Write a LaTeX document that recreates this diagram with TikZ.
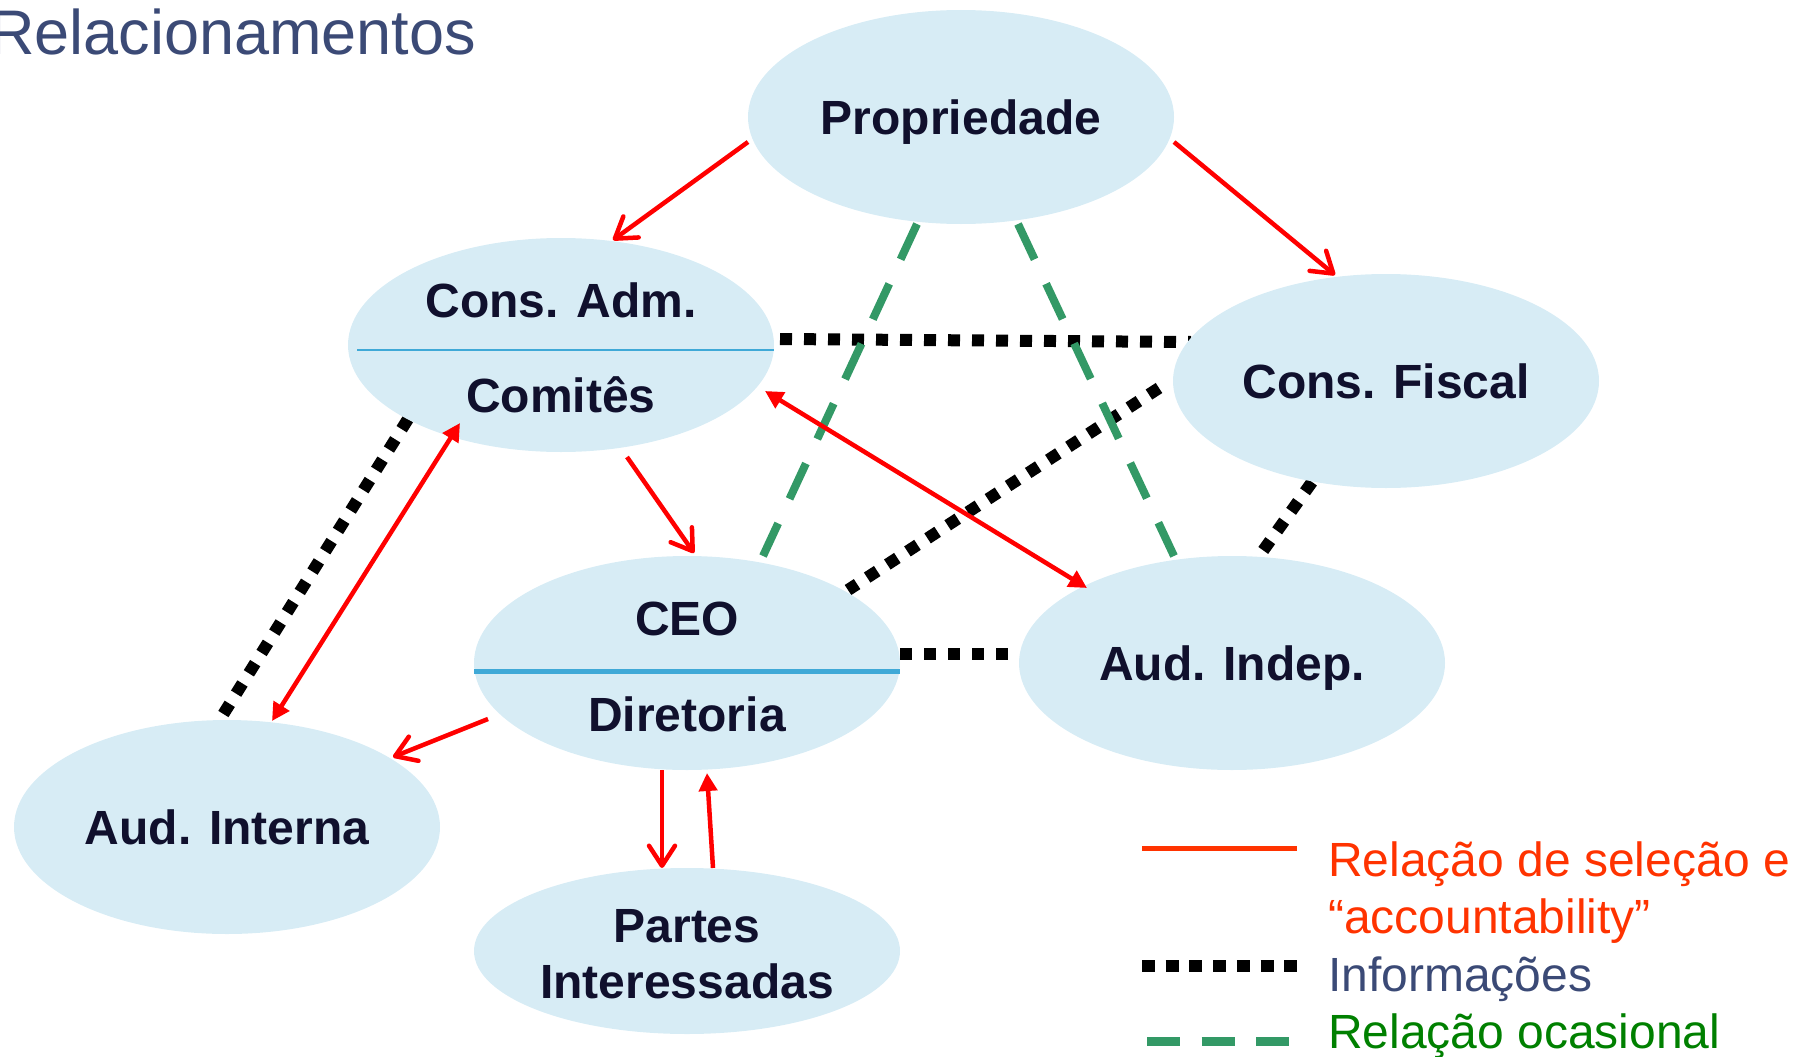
\documentclass[tikz,border=0pt]{standalone}
\usepackage{fontspec}
\setmainfont{Liberation Sans}
\usetikzlibrary{shapes.geometric,arrows.meta,calc}
\pgfdeclarelayer{bg}
\pgfsetlayers{bg,main}
\definecolor{bubblefill}{RGB}{215,236,245}
\definecolor{sepblue}{RGB}{63,169,215}
\definecolor{navytext}{RGB}{16,16,45}
\definecolor{titleblue}{RGB}{59,74,118}
\definecolor{legred}{RGB}{255,51,0}
\definecolor{leggreen}{RGB}{0,128,0}
\definecolor{dashgreen}{RGB}{51,153,102}
\definecolor{arrowred}{RGB}{255,0,0}
\begin{document}
\begin{tikzpicture}[x=1pt,y=-1pt,
  bubble/.style={ellipse, fill=bubblefill, inner sep=0pt, minimum width=426pt, minimum height=214pt,
    font=\bfseries\fontsize{48}{57.6}\selectfont, text=navytext, text height=34pt, text depth=0pt},
  lbl/.style={inner sep=0pt, anchor=base, font=\bfseries\fontsize{48}{57.6}\selectfont, text=navytext},
  legtext/.style={inner sep=0pt, anchor=base west, font=\fontsize{48}{57.6}\selectfont},
  sepline/.style={draw=sepblue},
  selline/.style={draw=arrowred, line width=4.5pt},
  barb/.style={-{Straight Barb[length=20pt,width=26pt,round]}},
  tri/.style={-{Triangle[length=18pt,width=18pt]}},
  dtri/.style={{Triangle[length=18pt,width=18pt]}-{Triangle[length=18pt,width=18pt]}},
  infoline/.style={draw=black, line width=12pt, dash pattern=on 12pt off 12pt},
  ocasline/.style={draw=dashgreen, line width=8pt, dash pattern=on 39pt off 27pt}
]
\useasboundingbox (0,0) rectangle (1804,1057);

% title
\node[inner sep=0pt, anchor=base west, font=\fontsize{63}{75}\selectfont, text=titleblue] (title) at (-11,55) {Relacionamentos};

% ellipses
\node[bubble] (prop) at (961,117) {Propriedade};
\node[bubble] (cadm) at (561,345) {};
\node[bubble] (cfis) at (1386,381) {Cons. Fiscal};
\node[bubble] (ceo) at (687,663) {};
\node[bubble] (aind) at (1232,663) {Aud. Indep.};
\node[bubble] (aint) at (227,827) {Aud. Interna};
\node[bubble, minimum height=166pt] (partes) at (687,951) {};

% separators and two-part labels
\draw[sepline, line width=2.5pt] ($(cadm)+(-204,5)$) -- ($(cadm)+(213,5)$);
\draw[sepline, line width=5pt] ($(ceo)+(-213,8)$) -- ($(ceo)+(213,8)$);
\node[lbl] (cadmA) at ($(cadm)+(0,-28)$) {Cons. Adm.};
\node[lbl] (cadmB) at ($(cadm)+(0,67)$) {Comitês};
\node[lbl] (ceoA) at ($(ceo)+(0,-28)$) {CEO};
\node[lbl] (ceoB) at ($(ceo)+(0,68)$) {Diretoria};
\node[lbl] (partesA) at ($(partes)+(0,-9)$) {Partes};
\node[lbl] (partesB) at ($(partes)+(0,47)$) {Interessadas};

% information (dotted) and occasional (dashed) lines behind the ellipses
\begin{pgfonlayer}{bg}
\draw[infoline] ($(cadm)+(219,-6)$) -- ($(cfis)+(-195,-39)$);
\draw[infoline] ($(cfis)+(-227,7)$) -- ($(ceo)+(161,-73)$);
\draw[infoline] ($(cfis)+(-74,101)$) -- ($(aind)+(28,-108)$);
\draw[infoline] ($(cadm)+(-153,74)$) -- ($(aint)+(-8,-106)$);
\draw[infoline] ($(ceo)+(213,-9)$) -- ($(aind)+(-224,-9)$);
\draw[ocasline] ($(prop)+(-44,107)$) -- ($(ceo)+(76,-107)$);
\draw[ocasline] ($(prop)+(57,107)$) -- ($(aind)+(-58,-107)$);
\end{pgfonlayer}

% selection / accountability arrows
\draw[selline, barb] ($(prop)+(-213,25)$) -- ($(cadm)+(52,-105)$);
\draw[selline, barb] ($(prop)+(213,25)$) -- ($(cfis)+(-51,-106)$);
\draw[selline, barb] ($(cadm)+(66,112)$) -- ($(ceo)+(7,-110)$);
\draw[selline, dtri] ($(cadm)+(204,46)$) -- ($(aind)+(-145,-75)$);
\draw[selline, dtri] ($(cadm)+(-101,78)$) -- ($(aint)+(45,-106)$);
\draw[selline, barb] ($(ceo)+(-199,56)$) -- ($(aint)+(166,-70)$);
\draw[selline, barb] ($(ceo)+(-25,107)$) -- ($(partes)+(-25,-83)$);
\draw[selline, tri] ($(partes)+(26,-83)$) -- ($(ceo)+(20,110)$);

% legend
\coordinate (lr1) at (1142,848); \coordinate (lr2) at (1297,848);
\coordinate (li1) at (1142,966); \coordinate (li2) at (1297,966);
\coordinate (lg1) at (1147,1041); \coordinate (lg2) at (1289,1041);
\draw[draw=legred, line width=5pt] (lr1) -- (lr2);
\draw[draw=black, line width=12pt, dash pattern=on 13pt off 10.7pt] (li1) -- (li2);
\draw[draw=dashgreen, line width=9pt, dash pattern=on 33pt off 21.5pt] (lg1) -- (lg2);
\node[legtext, text=legred] (leg1) at (1328,876) {Relação de seleção e};
\node[legtext, text=legred] (leg2) at (1328,933) {“accountability”};
\node[legtext, text=titleblue] (leg3) at (1328,991) {Informações};
\node[legtext, text=leggreen] (leg4) at (1328,1048) {Relação ocasional};
\end{tikzpicture}
\end{document}
